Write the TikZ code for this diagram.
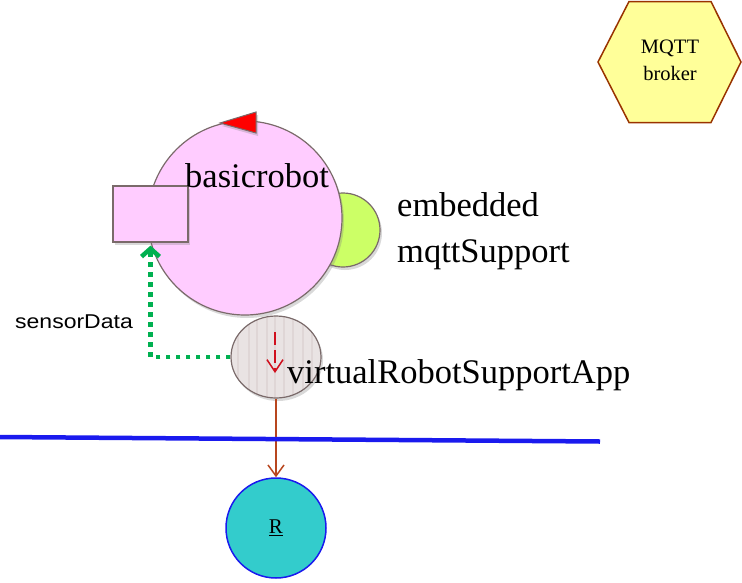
\documentclass[tikz,border=0pt]{standalone}
\usepackage{fontspec}
\usepackage{graphicx}
\setmainfont{Liberation Serif}
\newfontfamily\arialfont{Liberation Sans}
\usetikzlibrary{arrows.meta,shapes.geometric,shadows}
\definecolor{pinkfill}{HTML}{FFCCFF}
\definecolor{edgegray}{HTML}{7A6A6A}
\definecolor{limefill}{HTML}{CCFF66}
\definecolor{dotgreen}{HTML}{00B050}
\definecolor{rustline}{HTML}{B8461E}
\definecolor{hexfill}{HTML}{FFFF99}
\definecolor{hexedge}{HTML}{993300}
\definecolor{tealfill}{HTML}{33CCCC}
\definecolor{rblue}{HTML}{1A1AEE}
\definecolor{greyfill}{HTML}{E9E3E3}
\definecolor{stripecol}{HTML}{DFD6D6}
\definecolor{arrowred}{HTML}{D0101E}
\begin{document}
\begin{tikzpicture}[x=1pt,y=-1pt,
  shade/.style={drop shadow={opacity=0.3,shadow xshift=2pt,shadow yshift=-3pt}},
  comp/.style={draw=edgegray, line width=1.2pt, inner sep=0pt},
  bigtext/.style={font=\fontsize{34.5}{38}\selectfont, inner sep=0pt},
]
\useasboundingbox (0,0) rectangle (742,582);

% embedded mqtt support (behind)
\node[comp, circle, fill=limefill, minimum size=74pt, shade] (mqtt) at (343,230) {};
% basicrobot
\node[comp, circle, fill=pinkfill, minimum size=194pt, shade] (robot) at (245,218) {};
% port
\node[comp, rectangle, fill=pinkfill, minimum width=75pt, minimum height=56pt, shade] (port) at (150.5,214) {};
% red triangle
\draw[draw=edgegray, fill=red, line width=1pt, shade] (220,123) -- (256,112) -- (256,133) -- cycle;
\node[bigtext, anchor=base west] (robotlabel) at (185,187) {basicrobot};

% virtual robot support app
\node[comp, ellipse, fill=greyfill, minimum width=90pt, minimum height=82pt, shade,
  path picture={\foreach \i in {-38,-27,-19,-9,-1,8,17,27,36} \draw[stripecol, line width=1.2pt] ([xshift=\i pt]path picture bounding box.north) -- ([xshift=\i pt]path picture bounding box.south);}] (vapp) at (276,357) {};
\path (vapp.center) ++(-1,-25) coordinate (ain);
\path (vapp.center) ++(-1,16) coordinate (aout);
\draw[arrowred, line width=1.5pt, dash pattern=on 13pt off 5pt, -{Straight Barb[length=12pt,width=16pt]}] (ain) -- (aout);

% R
\node[circle, draw=rblue, line width=1.5pt, fill=tealfill, minimum size=100pt, inner sep=0pt, font=\fontsize{21}{24}\selectfont] (R) at (276,528) {\underline{R}};

% connectors
\draw[dotgreen, line width=4.5pt, dash pattern=on 4.5pt off 5.5pt, shorten >=3pt, -{Straight Barb[length=8pt,width=18pt]}] (vapp.west) -| (port.south);
\draw[rustline, line width=1.5pt, -{Straight Barb[length=11pt,width=16pt]}] (vapp.south) -- (R.north);

% boundary line
\draw[rblue, line width=4.5pt] (0,437) -- (600,441.5);

% MQTT broker
\draw[hexedge, fill=hexfill, line width=1.5pt] (598,62) -- (629,1.5) -- (711,1.5) -- (741,62) -- (711,122.5) -- (629,122.5) -- cycle;
\node[align=center, font=\fontsize{20.5}{27}\selectfont] (broker) at (670,60) {MQTT\\broker};

% labels
\node[bigtext, anchor=base west] (emb) at (397,216) {embedded};
\node[bigtext, anchor=base west] (mqs) at (397,262) {mqttSupport};
\node[bigtext, anchor=base west] (vlabel) at (287,383) {virtualRobotSupportApp};
\node[anchor=base west, inner sep=0pt, font=\arialfont\fontsize{20}{24}\selectfont] (sdata) at (15,328) {\scalebox{1.15}[1]{sensorData}};
\end{tikzpicture}
\end{document}
